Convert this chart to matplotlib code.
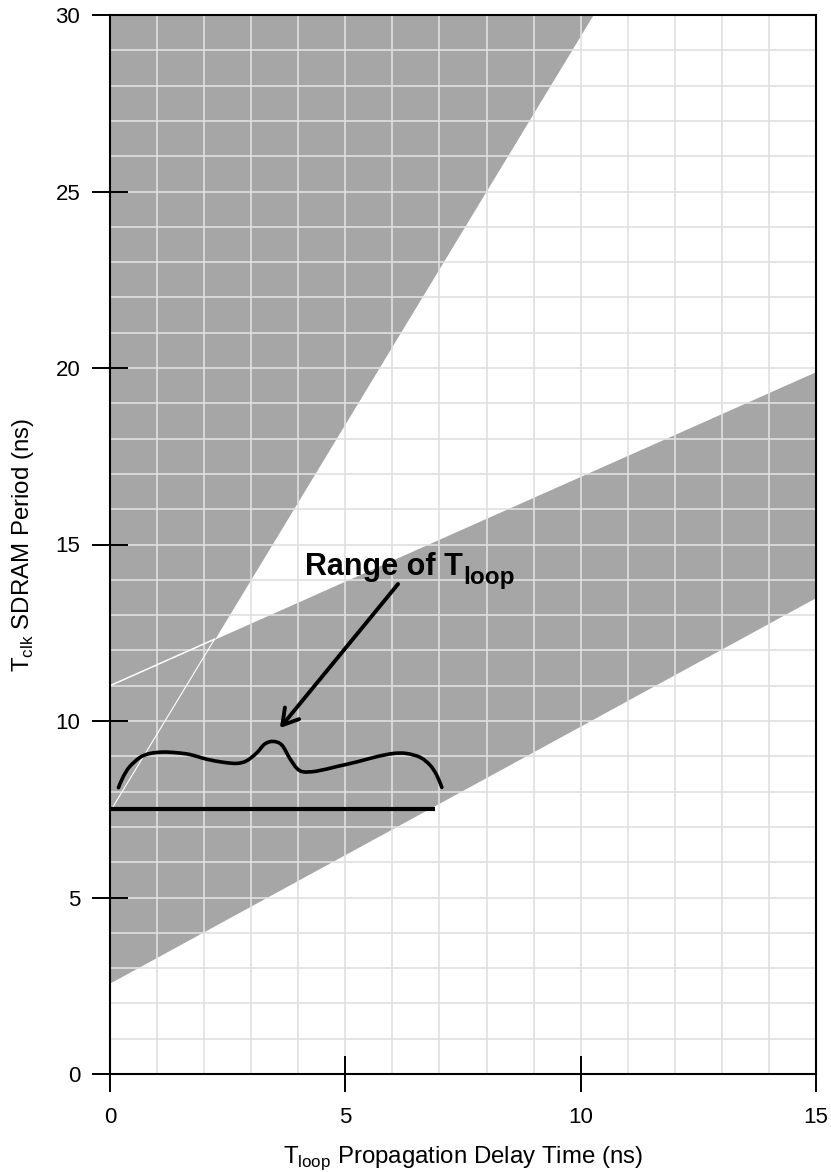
import numpy as np
import matplotlib
matplotlib.use('Agg')
from matplotlib import pyplot as plt
from matplotlib.ticker import MultipleLocator
from matplotlib.path import Path
from matplotlib.patches import PathPatch

plt.rcParams['font.family'] = ['Liberation Sans', 'DejaVu Sans']
plt.rcParams['mathtext.fontset'] = 'custom'
plt.rcParams['mathtext.rm'] = 'Liberation Sans'
plt.rcParams['mathtext.bf'] = 'Liberation Sans:bold'

# boundaries of the shaded (valid) regions
band_x = [0, 15]
band_low = [2.58, 13.5]
band_high = [11.0, 19.9]
steep_x = [0, 10.26]
steep_y = [7.43, 30.0]

# range of T_loop marker
range_x = [0.0, 6.9]
range_y = 7.5
curve_x = [0.18, 0.28, 0.42, 0.64, 0.85, 1.13, 1.42, 1.70, 2.05, 2.41, 2.69, 2.90,
           3.12, 3.29, 3.47, 3.65, 3.82, 3.97, 4.11, 4.39, 4.82, 5.24, 5.67, 6.02,
           6.30, 6.59, 6.80, 6.94, 7.05]
curve_y = [8.11, 8.42, 8.71, 8.97, 9.08, 9.12, 9.10, 9.05, 8.92, 8.83, 8.80, 8.87,
           9.10, 9.35, 9.42, 9.32, 8.94, 8.66, 8.56, 8.58, 8.71, 8.84, 8.99, 9.08,
           9.08, 8.97, 8.75, 8.47, 8.12]
arrow_tip = (3.61, 9.8)
arrow_tail = (6.12, 13.88)

gray = '#a6a6a6'
gridc = '#e0e0e0'


def smooth_path(xs, ys):
    """bezier path through the given points (catmull-rom style handles)"""
    p = np.column_stack([xs, ys])
    verts = [p[0]]
    codes = [Path.MOVETO]
    n = len(p)
    for i in range(n - 1):
        p0 = p[max(i - 1, 0)]
        p1 = p[i]
        p2 = p[i + 1]
        p3 = p[min(i + 2, n - 1)]
        verts += [p1 + (p2 - p0) / 6, p2 - (p3 - p1) / 6, p2]
        codes += [Path.CURVE4] * 3
    return Path(verts, codes)


fig = plt.figure(figsize=(8.31, 11.72), dpi=100)
ax = fig.add_axes([110/831, 1 - 1074/1172, 706/831, 1059/1172])

# band between the two shallow lines
ax.fill_between(band_x, band_low, band_high, color=gray, lw=0, zorder=1)
# region above the steep line
ax.fill_between([steep_x[0], steep_x[1], 15], [steep_y[0], steep_y[1], 30], 30,
                color=gray, lw=0, zorder=1)

# crossing of steep line and upper band line
s1 = (steep_y[1] - steep_y[0]) / (steep_x[1] - steep_x[0])
s2 = (band_high[1] - band_high[0]) / (band_x[1] - band_x[0])
xc = (band_high[0] - steep_y[0]) / (s1 - s2)
yc = steep_y[0] + s1 * xc
ax.plot([steep_x[0], xc], [steep_y[0], yc], color='white', lw=0.8, zorder=2)
ax.plot([band_x[0], xc], [band_high[0], yc], color='white', lw=1.1, zorder=2)

# range marker
ax.plot(range_x, [range_y, range_y], color='black', lw=3.0, solid_capstyle='butt', zorder=3)
ax.add_patch(PathPatch(smooth_path(curve_x, curve_y), fill=False, edgecolor='black',
                       lw=2.6, capstyle='round', joinstyle='round', zorder=3))
ax.annotate('', xy=arrow_tip, xytext=arrow_tail,
            arrowprops=dict(arrowstyle='->,head_length=0.55,head_width=0.33', lw=2.8,
                            color='black', shrinkA=0, shrinkB=0, mutation_scale=20),
            zorder=3)
t = ax.text(4.14, 14.14, 'Range of T', fontsize=22, fontweight='bold',
            ha='left', va='baseline', zorder=4)
ax.annotate('loop', xy=(1, 0), xycoords=t, xytext=(0.5, -1.2), textcoords='offset points',
            fontsize=17.5, fontweight='bold', ha='left', va='baseline', zorder=4)

ax.set_xlim(0, 15)
ax.set_ylim(0, 30)
ax.xaxis.set_major_locator(MultipleLocator(5))
ax.yaxis.set_major_locator(MultipleLocator(5))
ax.xaxis.set_minor_locator(MultipleLocator(1))
ax.yaxis.set_minor_locator(MultipleLocator(1))
ax.set_axisbelow('line')
ax.grid(which='both', color=gridc, lw=1.2)
ax.tick_params(which='minor', length=0)
ax.tick_params(axis='y', which='major', direction='inout', length=26, width=1.4,
               labelsize=16, pad=8.5)
ax.tick_params(axis='x', which='major', direction='inout', length=26, width=1.4,
               labelsize=16, pad=11)
for sp in ax.spines.values():
    sp.set_linewidth(1.5)

ax.set_xlabel(r'T$_{\mathrm{loop}}$ Propagation Delay Time (ns)', fontsize=17.3)
ax.set_ylabel(r'T$_{\mathrm{clk}}$ SDRAM Period (ns)', fontsize=17.3)
ax.xaxis.set_label_coords(0.5, -0.066)
ax.yaxis.set_label_coords(-0.105, 0.5)

fig.savefig('out.png', dpi=100)
